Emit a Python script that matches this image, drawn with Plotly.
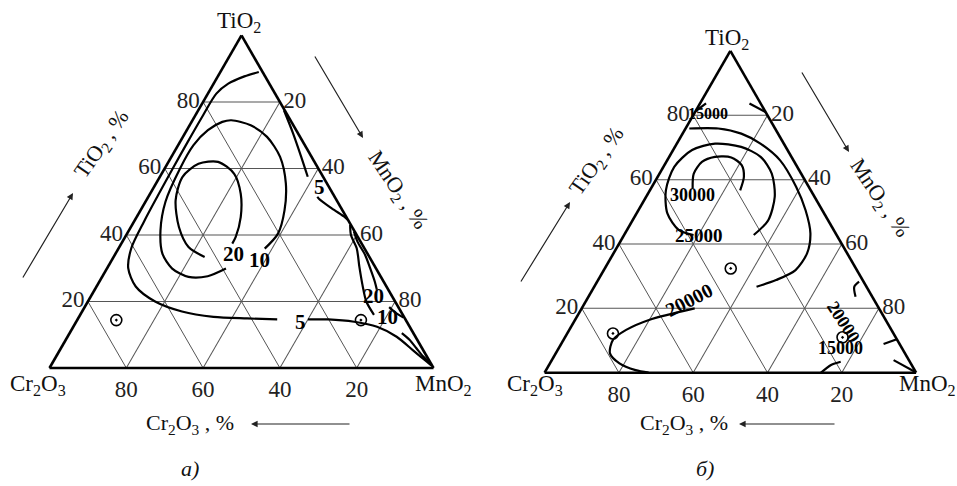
import math
import plotly.graph_objects as go

W, H = 957, 486
FONT = "Liberation Serif"

# ---------------- chart а) : contour pieces as TiO2 % / MnO2 % (Cr2O3 is the rest)
a_5_outer1_ti = [89, 87.7, 85.5, 82.5, 76, 68, 60, 52, 44, 36, 30, 24.5, 20, 17, 15.4, 14.9, 14.6]
a_5_outer1_mn = [10, 6.9, 3.8, 2.2, 2.0, 2.0, 2.1, 2.3, 2.6, 3.3, 5.5, 10.2, 17.5, 26, 35, 44, 52]
a_5_outer2_ti = [14.6, 14.6, 13.9, 12.4, 9.4, 5.4, 2.4, 0.8]
a_5_outer2_mn = [60, 65.3, 72.4, 79.1, 85.7, 91.9, 96.5, 99]
a_5_right1_ti = [77.5, 70.5, 63.5, 57.5]
a_5_right1_mn = [22.3, 28.2, 33.8, 38.5]
a_5_right2_ti = [51.5, 50.9, 48, 45.4, 44.5]
a_5_right2_mn = [44, 44.7, 49.5, 54.2, 55.5]
a_10_loop_ti = [29.9, 27.6, 27.4, 29.9, 34.4, 41.4, 50, 60, 67, 71.5, 74, 74.5, 73, 69.5, 63.5, 55.5, 47.4, 40.4, 35.9]
a_10_loop_mn = [31.0, 27.4, 22.5, 17.0, 12.2, 8.2, 5.2, 4.0, 4.0, 5.5, 8, 10.1, 15.9, 21.9, 28.3, 33.8, 37.5, 39.3, 38.1]
a_20_loop_ti = [33.4, 36.4, 42.4, 50.5, 57.5, 61.4, 62, 58.4, 52.4, 45.4, 39.4, 37.4]
a_20_loop_mn = [23.7, 18.0, 12.5, 7.6, 5.9, 8.1, 12.9, 18.9, 23.6, 27.1, 28.8, 28.9]
a_20_right1_ti = [41, 38, 34, 30, 26, 23.5]
a_20_right1_mn = [58.8, 61.2, 65.2, 68.5, 71.7, 73.5]
a_20_right2_ti = [18.3, 16.5, 15.2]
a_20_right2_mn = [79.3, 82, 84.6]
a_10_right1_ti = [43, 40, 36, 30.4, 25, 20, 16]
a_10_right1_mn = [56.8, 58.5, 62, 65.5, 69, 72.5, 76.5]
a_10_right2_ti = [10.5, 8.5, 6, 3.5, 1.5]
a_10_right2_mn = [86.5, 89.5, 92.5, 95.5, 98.3]

a_lab_text = ["5", "5", "10", "20", "20", "10"]
a_lab_ti = [54.5, 13.9, 32.4, 34.4, 21.8, 11.0]
a_lab_mn = [41.1, 56.5, 35.2, 27.4, 73.6, 82.6]

a_pts_ti = [14.4, 14.4]
a_pts_mn = [10.2, 73.9]

# ---------------- chart б)
b_15_top1_ti = [81.3, 83.7]
b_15_top1_mn = [0, 1.6]
b_15_top2_ti = [83.7, 81]
b_15_top2_mn = [13.3, 19]
b_20_main1_ti = [75.9, 75.9, 74.3, 71.2, 66, 57.8, 50.5, 43.3, 37.1, 31.9, 28.8, 26.7]
b_20_main1_mn = [1, 8.8, 15.8, 22.5, 30.4, 38.8, 45, 49.9, 52.1, 51.6, 47.9, 43.7]
b_20_main2_ti = [20, 16.4, 13.3, 10.2, 6, 2.9, 0.8, 0]
b_20_main2_mn = [30.4, 19.9, 15.3, 13.3, 14.6, 18.7, 24.1, 28]
b_25_loop_ti = [42.8, 47.4, 54.7, 61.9, 67.1, 70.2, 71.2, 69.2, 64, 56.7, 49.5, 44.3, 42.8]
b_25_loop_mn = [34.9, 36.5, 34.6, 30.2, 24.6, 17.8, 10.3, 5.1, 2.9, 4.3, 8.3, 14, 18.7]
b_30_loop_ti = [57.3, 61.9, 65.5, 67.1, 66.9, 64.5, 60.9, 56.7]
b_30_loop_mn = [11.2, 9.2, 9.6, 12.3, 16.8, 20.8, 23.2, 24.3]
b_20_right1_ti = [28.3, 26.7, 23.6]
b_20_right1_mn = [70.5, 70, 71.9]
b_20_right2_ti = [8.9, 10.4]
b_20_right2_mn = [86.8, 89.6]
b_15_bot1_ti = [0, 2.4, 3.4]
b_15_bot1_mn = [74.4, 75.9, 78]
b_15_bot2_ti = [3.9, 0.3]
b_15_bot2_mn = [92, 99.5]

b_lab_text = ["15000", "20000", "25000", "30000", "20000", "15000"]
b_lab_ti = [83.7, 22.6, 42.5, 55.2, 15.8, 3.9]
b_lab_mn = [8, 35.6, 27.3, 18.9, 78.9, 84.3]
b_lab_angle = [0, -27, 0, 0, 57, 0]
b_lab_size = [16, 20, 19, 18, 18, 18]

b_pts_ti = [32.4, 11, 12.2]
b_pts_mn = [33.9, 74.7, 12.3]

ticks = [20, 40, 60, 80]

# triangle placement in pixels (left x, bottom y, side length)
GEO = {
    "ternary": dict(x0=49.5, bottom=368.0, w=384.0),
    "ternary2": dict(x0=544.6, bottom=372.7, w=371.5),
}


def domain(g):
    h = g["w"] * math.sqrt(3) / 2
    return dict(x=[g["x0"] / W, (g["x0"] + g["w"]) / W],
                y=[(H - g["bottom"]) / H, (H - g["bottom"] + h) / H])


def to_paper(g, ti, mn):
    h = g["w"] * math.sqrt(3) / 2
    xp = g["x0"] + (mn / 100 + ti / 200) * g["w"]
    yp = g["bottom"] - ti / 100 * h
    return xp / W, (H - yp) / H


def axis():
    return dict(
        title=dict(text=""), min=0, tickvals=ticks, ticks="",
        showline=True, linecolor="black", linewidth=2.6,
        showgrid=True, gridcolor="#555555", gridwidth=1,
        tickfont=dict(family=FONT, size=23, color="#222222"),
    )


fig = go.Figure()

pieces_a = [
    (a_5_outer1_ti, a_5_outer1_mn), (a_5_outer2_ti, a_5_outer2_mn),
    (a_5_right1_ti, a_5_right1_mn), (a_5_right2_ti, a_5_right2_mn),
    (a_10_loop_ti, a_10_loop_mn), (a_20_loop_ti, a_20_loop_mn),
    (a_20_right1_ti, a_20_right1_mn), (a_20_right2_ti, a_20_right2_mn),
    (a_10_right1_ti, a_10_right1_mn), (a_10_right2_ti, a_10_right2_mn),
]
pieces_b = [
    (b_15_top1_ti, b_15_top1_mn), (b_15_top2_ti, b_15_top2_mn),
    (b_20_main1_ti, b_20_main1_mn), (b_20_main2_ti, b_20_main2_mn),
    (b_25_loop_ti, b_25_loop_mn), (b_30_loop_ti, b_30_loop_mn),
    (b_20_right1_ti, b_20_right1_mn), (b_20_right2_ti, b_20_right2_mn),
    (b_15_bot1_ti, b_15_bot1_mn), (b_15_bot2_ti, b_15_bot2_mn),
]

for sub, pieces in (("ternary", pieces_a), ("ternary2", pieces_b)):
    for ti, mn in pieces:
        fig.add_trace(go.Scatterternary(
            a=ti, c=mn, mode="lines", subplot=sub, cliponaxis=False,
            line=dict(color="black", width=2.2, shape="spline", smoothing=0.8),
            hoverinfo="skip", showlegend=False,
        ))

for sub, ti, mn in (("ternary", a_pts_ti, a_pts_mn), ("ternary2", b_pts_ti, b_pts_mn)):
    fig.add_trace(go.Scatterternary(
        a=ti, c=mn, mode="markers", subplot=sub, cliponaxis=False,
        marker=dict(symbol="circle-open-dot", size=11, color="black", line=dict(width=1.6)),
        hoverinfo="skip", showlegend=False,
    ))

ann = []


def px_text(x, y, text, size=23, angle=0, italic=False):
    ann.append(dict(
        x=x / W, y=(H - y) / H, xref="paper", yref="paper", text=text,
        showarrow=False, textangle=angle, xanchor="center", yanchor="middle",
        font=dict(family=FONT, size=size, color="#111111", style="italic" if italic else "normal"),
    ))


def arrow(x0, y0, x1, y1):
    ann.append(dict(
        x=x1 / W, y=(H - y1) / H, xref="paper", yref="paper",
        ax=x0 - x1, ay=y0 - y1, text="", showarrow=True,
        arrowhead=2, arrowsize=1.1, arrowwidth=1.2, arrowcolor="#222222",
    ))


# contour labels
g = GEO["ternary"]
for t, ti, mn in zip(a_lab_text, a_lab_ti, a_lab_mn):
    x, y = to_paper(g, ti, mn)
    ann.append(dict(x=x, y=y, xref="paper", yref="paper", text="<b>" + t + "</b>",
                    showarrow=False, font=dict(family=FONT, size=21, color="black")))
g = GEO["ternary2"]
for t, ti, mn, ang, sz in zip(b_lab_text, b_lab_ti, b_lab_mn, b_lab_angle, b_lab_size):
    x, y = to_paper(g, ti, mn)
    ann.append(dict(x=x, y=y, xref="paper", yref="paper", text="<b>" + t + "</b>",
                    showarrow=False, textangle=ang, font=dict(family=FONT, size=sz, color="black")))

# vertex names
px_text(239, 22, "TiO<sub>2</sub>")
px_text(38, 385, "Cr<sub>2</sub>O<sub>3</sub>")
px_text(443, 385, "MnO<sub>2</sub>")
px_text(727, 39, "TiO<sub>2</sub>")
px_text(535, 385, "Cr<sub>2</sub>O<sub>3</sub>")
px_text(927, 385, "MnO<sub>2</sub>")

# side captions with arrows
px_text(102, 145, "TiO<sub>2</sub> , %", size=22, angle=-55)
arrow(22, 279, 73, 193)
px_text(397, 190, "MnO<sub>2</sub> , %", size=22, angle=56)
arrow(314, 55, 363, 138)
px_text(190, 424, "Cr<sub>2</sub>O<sub>3</sub> , %", size=22)
arrow(351, 424, 251, 424)

px_text(597, 162, "TiO<sub>2</sub> , %", size=22, angle=-55)
arrow(520, 283, 570, 202)
px_text(879, 198, "MnO<sub>2</sub> , %", size=22, angle=56)
arrow(801, 71, 849, 152)
px_text(684, 424, "Cr<sub>2</sub>O<sub>3</sub> , %", size=22)
arrow(836, 424, 739, 424)

px_text(190, 468, "а)", size=22, italic=True)
px_text(705, 468, "б)", size=22, italic=True)

fig.update_layout(
    width=W, height=H, margin=dict(l=0, r=0, t=0, b=0, autoexpand=False),
    paper_bgcolor="white", showlegend=False,
    font=dict(family=FONT, color="#222222"),
    ternary=dict(domain=domain(GEO["ternary"]), sum=100, bgcolor="white",
                 aaxis=axis(), baxis=axis(), caxis=axis()),
    ternary2=dict(domain=domain(GEO["ternary2"]), sum=100, bgcolor="white",
                  aaxis=axis(), baxis=axis(), caxis=axis()),
    annotations=ann,
)

fig.write_html(
    "out.html",
    config={"displayModeBar": False, "staticPlot": True},
    post_script="document.body.style.margin='0';document.body.style.overflow='hidden';",
)
